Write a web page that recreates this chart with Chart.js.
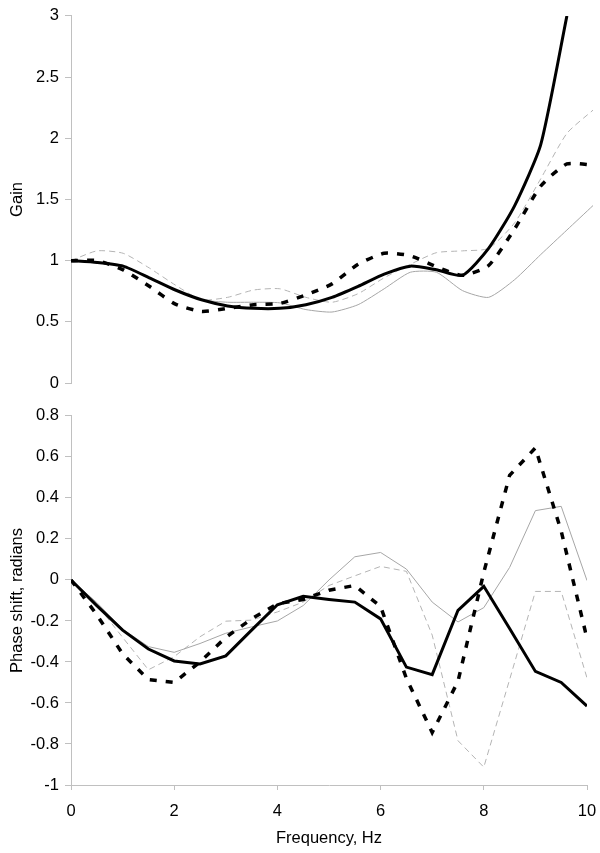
<!DOCTYPE html>
<html>
<head>
<meta charset="utf-8">
<script src="https://cdn.jsdelivr.net/npm/chart.js@4/dist/chart.umd.min.js"></script>
<style>
  html, body { margin: 0; padding: 0; background: #ffffff; }
  #wrap { position: relative; width: 600px; height: 853px; background: #ffffff; }
  canvas { position: absolute; left: 0; }
  #gainCanvas { top: 0; }
  #phaseCanvas { top: 400px; }
</style>
</head>
<body>
<div id="wrap">
  <canvas id="gainCanvas" width="600" height="400"></canvas>
  <canvas id="phaseCanvas" width="600" height="453"></canvas>
</div>
<script>
// ---- data ----
const frequencies = [0, 0.5, 1, 1.5, 2, 2.5, 3, 3.5, 4, 4.5, 5, 5.5, 6, 6.5, 7, 7.5, 8, 8.5, 9, 9.5, 10];

const gainThickSolid = [1.0, 0.985, 0.955, 0.86, 0.76, 0.68, 0.63, 0.61, 0.61, 0.64, 0.70, 0.79, 0.89, 0.955, 0.925, 0.88, 1.10, 1.45, 1.95, 3.0, null];
const gainThickDash  = [1.0, 1.0, 0.925, 0.79, 0.645, 0.585, 0.61, 0.64, 0.65, 0.72, 0.81, 0.97, 1.06, 1.04, 0.95, 0.88, 0.96, 1.26, 1.61, 1.79, 1.78];
const gainThinSolid  = [1.0, 0.99, 0.95, 0.86, 0.76, 0.68, 0.66, 0.66, 0.655, 0.60, 0.58, 0.64, 0.77, 0.905, 0.905, 0.755, 0.70, 0.845, 1.05, 1.25, 1.45];
const gainThinDash   = [1.0, 1.08, 1.06, 0.94, 0.80, 0.68, 0.70, 0.76, 0.77, 0.70, 0.66, 0.73, 0.86, 0.97, 1.065, 1.08, 1.10, 1.31, 1.67, 2.04, 2.23];

const phaseThickSolid = [0, -0.125, -0.245, -0.337, -0.395, -0.41, -0.37, -0.245, -0.121, -0.08, -0.095, -0.108, -0.19, -0.425, -0.462, -0.148, -0.031, -0.237, -0.446, -0.50, -0.615];
const phaseThickDash  = [0, -0.17, -0.36, -0.486, -0.50, -0.40, -0.28, -0.19, -0.116, -0.095, -0.05, -0.027, -0.13, -0.48, -0.744, -0.494, 0.037, 0.51, 0.644, 0.238, -0.285];
const phaseThinSolid  = [0, -0.11, -0.24, -0.325, -0.353, -0.31, -0.26, -0.229, -0.2, -0.125, 0.0, 0.113, 0.134, 0.053, -0.108, -0.205, -0.135, 0.061, 0.338, 0.359, -0.003];
const phaseThinDash   = [0, -0.12, -0.28, -0.438, -0.374, -0.277, -0.201, -0.196, -0.156, -0.108, -0.027, 0.02, 0.066, 0.042, -0.269, -0.784, -0.913, -0.486, -0.056, -0.056, -0.478];

const gainTicks  = [0, 0.5, 1, 1.5, 2, 2.5, 3];
const phaseTicks = [-1, -0.8, -0.6, -0.4, -0.2, 0, 0.2, 0.4, 0.6, 0.8];
const freqTicks  = [0, 2, 4, 6, 8, 10];

const gainTitle  = 'Gain';
const phaseTitle = 'Phase shift, radians';
const freqTitle  = 'Frequency, Hz';

// ---- styling ----
const FONT = { family: "'Liberation Sans', Arial, sans-serif", size: 16.5 };
const AXIS_COLOR = '#c0c0c0';
const TEXT_COLOR = '#000000';

function pts(ys) { return frequencies.map((x, i) => ({ x: x, y: ys[i] })); }

function styleSets(a, b, c, d, tension) {
  return [
    { data: pts(a), borderColor: '#000000', borderWidth: 3, tension: tension },
    { data: pts(b), borderColor: '#000000', borderWidth: 3.5, borderDash: [7, 9], tension: tension },
    { data: pts(c), borderColor: '#a6a6a6', borderWidth: 1, tension: tension },
    { data: pts(d), borderColor: '#b4b4b4', borderWidth: 1, borderDash: [6, 4], tension: tension }
  ];
}

function fixedTicks(arr) {
  return function (scale) { scale.ticks = arr.map(v => ({ value: v })); };
}
function fmt(v) { return String(Math.round(v * 100) / 100); }

const common = {
  responsive: false,
  animation: false,
  devicePixelRatio: 1,
  plugins: { legend: { display: false }, tooltip: { enabled: false } },
  elements: { point: { radius: 0 }, line: { fill: false, borderCapStyle: 'butt', borderJoinStyle: 'miter' } }
};

function yAxis(min, max, ticksArr, title) {
  return {
    type: 'linear', min: min, max: max,
    afterBuildTicks: fixedTicks(ticksArr),
    afterFit: (s) => { s.width = 71; },
    border: { display: true, color: AXIS_COLOR, width: 1 },
    grid: { drawOnChartArea: false, drawTicks: true, tickLength: 6, color: AXIS_COLOR },
    ticks: { color: TEXT_COLOR, font: FONT, padding: 6, callback: (v) => fmt(v) },
    title: { display: true, text: title, color: TEXT_COLOR, font: FONT, padding: { top: 8, bottom: 0 } }
  };
}

new Chart(document.getElementById('gainCanvas'), {
  type: 'line',
  data: { datasets: styleSets(gainThickSolid, gainThickDash, gainThinSolid, gainThinDash, 0.2) },
  options: Object.assign({}, common, {
    layout: { padding: { top: 11, right: 7, bottom: 17, left: 0 } },
    scales: {
      x: { type: 'linear', min: 0, max: 10, display: false },
      y: yAxis(0, 3, gainTicks, gainTitle)
    }
  })
});

new Chart(document.getElementById('phaseCanvas'), {
  type: 'line',
  data: { datasets: styleSets(phaseThickSolid, phaseThickDash, phaseThinSolid, phaseThinDash, 0) },
  options: Object.assign({}, common, {
    layout: { padding: { top: 12, right: 13, bottom: 0, left: 0 } },
    scales: {
      x: {
        type: 'linear', min: 0, max: 10,
        afterBuildTicks: fixedTicks(freqTicks),
        afterFit: (s) => { s.height = 68; s.paddingLeft = 0; s.paddingRight = 0; },
        border: { display: true, color: AXIS_COLOR, width: 1 },
        grid: { drawOnChartArea: false, drawTicks: true, tickLength: 5, color: AXIS_COLOR },
        ticks: { color: TEXT_COLOR, font: FONT, padding: 12, maxRotation: 0, callback: (v) => fmt(v) },
        title: { display: true, text: freqTitle, color: TEXT_COLOR, font: FONT, padding: { top: 4, bottom: 5 } }
      },
      y: yAxis(-1, 0.8, phaseTicks, phaseTitle)
    }
  })
});
</script>
</body>
</html>
